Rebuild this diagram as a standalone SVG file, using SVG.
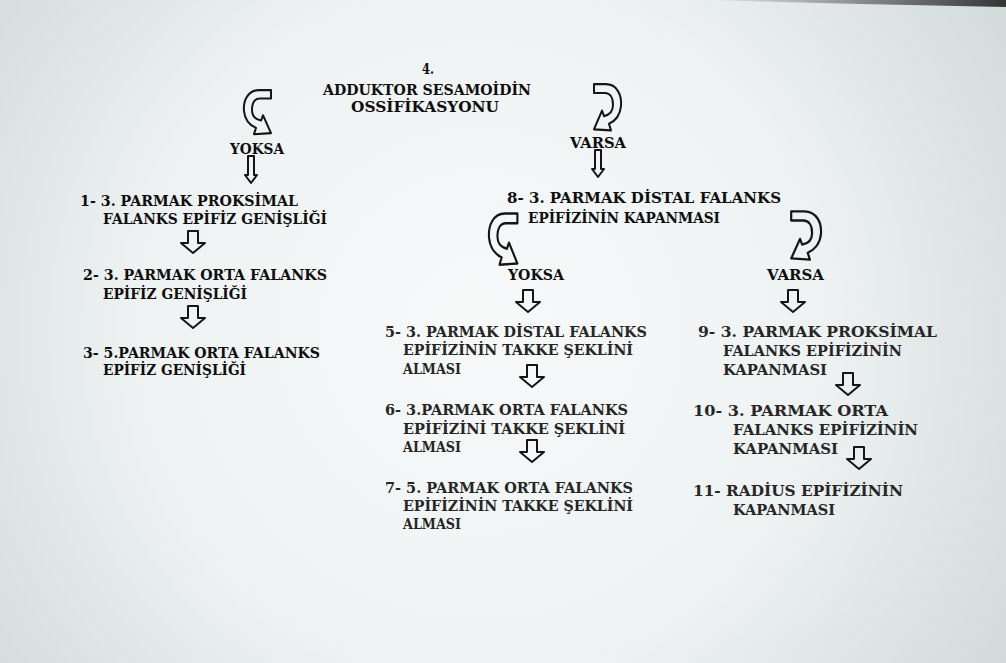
<svg xmlns="http://www.w3.org/2000/svg" width="1006" height="663" viewBox="0 0 1006 663">
  <defs>
    <radialGradient id="bg" cx="480" cy="330" r="620" gradientUnits="userSpaceOnUse">
      <stop offset="0" stop-color="#f8fafa"/>
      <stop offset="0.55" stop-color="#eef2f2"/>
      <stop offset="1" stop-color="#d2dada"/>
    </radialGradient>
    <linearGradient id="edge" x1="700" y1="0" x2="1006" y2="0" gradientUnits="userSpaceOnUse">
      <stop offset="0" stop-color="#333" stop-opacity="0"/>
      <stop offset="1" stop-color="#222" stop-opacity="0.9"/>
    </linearGradient>
    <path id="curl" d="M 28 2 L 16 2 C 5 2 0 12 1 22 C 2 31 8 36 13 38 L 11 44 L 28 43 L 20 26 L 18 31 C 13 30 9 27 9 21 C 9 14 12 10 17 10 L 28 10 Z"/>
    <path id="dn" d="M -5 0 H 5 V 12 H 12 L 0 22 L -12 12 H -5 Z"/>
    <path id="dnthin" d="M -3 0 H 3 V 19 H 6 L 0 27 L -6 19 H -3 Z"/>
  </defs>
  <style>
    text { font-family: "DejaVu Serif", "Liberation Serif", serif; font-weight: bold; font-size: 15px; }
    .h { fill: #0e0e0e; }
    .m { fill: #262626; }
    .arr use, .arr { fill: none; stroke: #151515; stroke-width: 2; stroke-linejoin: round; }
    .curl { fill: none; stroke: #151515; stroke-width: 2; stroke-linejoin: round; vector-effect: non-scaling-stroke; }
  </style>

  <rect width="1006" height="663" fill="url(#bg)"/>
  <polygon points="700,0 1006,0 1006,7 860,4" fill="url(#edge)"/>

  <g id="n4">
    <text class="h" x="422" y="74" textLength="12" lengthAdjust="spacingAndGlyphs">4.</text>
    <text class="h" x="323" y="95" textLength="208" lengthAdjust="spacingAndGlyphs">ADDUKTOR SESAMOİDİN</text>
    <text class="h" x="351" y="112" textLength="148" lengthAdjust="spacingAndGlyphs">OSSİFİKASYONU</text>
  </g>

  <g id="yoksa-top"><text class="h" x="230" y="154" textLength="54" lengthAdjust="spacingAndGlyphs">YOKSA</text></g>
  <g id="varsa-top"><text class="h" x="570" y="148" textLength="56" lengthAdjust="spacingAndGlyphs">VARSA</text></g>

  <g id="n1">
    <text class="h" x="80" y="206" textLength="218" lengthAdjust="spacingAndGlyphs">1- 3. PARMAK PROKSİMAL</text>
    <text class="h" x="103" y="224" textLength="224" lengthAdjust="spacingAndGlyphs">FALANKS EPİFİZ GENİŞLİĞİ</text>
  </g>
  <g id="n2">
    <text class="h" x="83" y="280" textLength="244" lengthAdjust="spacingAndGlyphs">2- 3. PARMAK ORTA FALANKS</text>
    <text class="h" x="103" y="299" textLength="144" lengthAdjust="spacingAndGlyphs">EPİFİZ GENİŞLİĞİ</text>
  </g>
  <g id="n3">
    <text class="h" x="83" y="358" textLength="237" lengthAdjust="spacingAndGlyphs">3- 5.PARMAK ORTA FALANKS</text>
    <text class="h" x="103" y="375" textLength="143" lengthAdjust="spacingAndGlyphs">EPİFİZ GENİŞLİĞİ</text>
  </g>

  <g id="n8">
    <text class="h" x="507" y="203" textLength="274" lengthAdjust="spacingAndGlyphs">8- 3. PARMAK DİSTAL FALANKS</text>
    <text class="h" x="528" y="223" textLength="192" lengthAdjust="spacingAndGlyphs">EPİFİZİNİN KAPANMASI</text>
  </g>
  <g id="yoksa-mid"><text class="h" x="508" y="280" textLength="56" lengthAdjust="spacingAndGlyphs">YOKSA</text></g>
  <g id="varsa-mid"><text class="h" x="767" y="280" textLength="57" lengthAdjust="spacingAndGlyphs">VARSA</text></g>

  <g id="n5">
    <text class="m" x="385" y="337" textLength="262" lengthAdjust="spacingAndGlyphs">5- 3. PARMAK DİSTAL FALANKS</text>
    <text class="m" x="403" y="355" textLength="230" lengthAdjust="spacingAndGlyphs">EPİFİZİNİN TAKKE ŞEKLİNİ</text>
    <text class="m" x="403" y="374" textLength="58" lengthAdjust="spacingAndGlyphs">ALMASI</text>
  </g>
  <g id="n6">
    <text class="m" x="385" y="415" textLength="243" lengthAdjust="spacingAndGlyphs">6- 3.PARMAK ORTA FALANKS</text>
    <text class="m" x="403" y="434" textLength="222" lengthAdjust="spacingAndGlyphs">EPİFİZİNİ TAKKE ŞEKLİNİ</text>
    <text class="m" x="403" y="452" textLength="58" lengthAdjust="spacingAndGlyphs">ALMASI</text>
  </g>
  <g id="n7">
    <text class="m" x="385" y="493" textLength="248" lengthAdjust="spacingAndGlyphs">7- 5. PARMAK ORTA FALANKS</text>
    <text class="m" x="403" y="511" textLength="230" lengthAdjust="spacingAndGlyphs">EPİFİZİNİN TAKKE ŞEKLİNİ</text>
    <text class="m" x="403" y="529" textLength="58" lengthAdjust="spacingAndGlyphs">ALMASI</text>
  </g>

  <g id="n9">
    <text class="m" x="698" y="337" textLength="239" lengthAdjust="spacingAndGlyphs">9- 3. PARMAK PROKSİMAL</text>
    <text class="m" x="723" y="356" textLength="179" lengthAdjust="spacingAndGlyphs">FALANKS EPİFİZİNİN</text>
    <text class="m" x="723" y="375" textLength="104" lengthAdjust="spacingAndGlyphs">KAPANMASI</text>
  </g>
  <g id="n10">
    <text class="m" x="693" y="416" textLength="195" lengthAdjust="spacingAndGlyphs">10- 3. PARMAK ORTA</text>
    <text class="m" x="733" y="435" textLength="185" lengthAdjust="spacingAndGlyphs">FALANKS EPİFİZİNİN</text>
    <text class="m" x="733" y="454" textLength="105" lengthAdjust="spacingAndGlyphs">KAPANMASI</text>
  </g>
  <g id="n11">
    <text class="m" x="693" y="496" textLength="210" lengthAdjust="spacingAndGlyphs">11- RADİUS EPİFİZİNİN</text>
    <text class="m" x="733" y="515" textLength="102" lengthAdjust="spacingAndGlyphs">KAPANMASI</text>
  </g>

  <g id="connectors">
    <use href="#curl" class="curl" transform="translate(243,88) scale(1,1.05)"/>
    <use href="#curl" class="curl" transform="translate(622,82) scale(-1,1.1)"/>
    <use href="#curl" class="curl" transform="translate(488,211) scale(1.05,1.22)"/>
    <use href="#curl" class="curl" transform="translate(822,209) scale(-1.1,1.15)"/>
    <g class="arr">
      <use href="#dnthin" x="251" y="156"/>
      <use href="#dnthin" x="598" y="150"/>
      <use href="#dn" x="193" y="231"/>
      <use href="#dn" x="193" y="306"/>
      <use href="#dn" x="528" y="290"/>
      <use href="#dn" x="793" y="290"/>
      <use href="#dn" x="532" y="365"/>
      <use href="#dn" x="532" y="440"/>
      <use href="#dn" x="848" y="373"/>
      <use href="#dn" x="859" y="447"/>
    </g>
  </g>
</svg>
